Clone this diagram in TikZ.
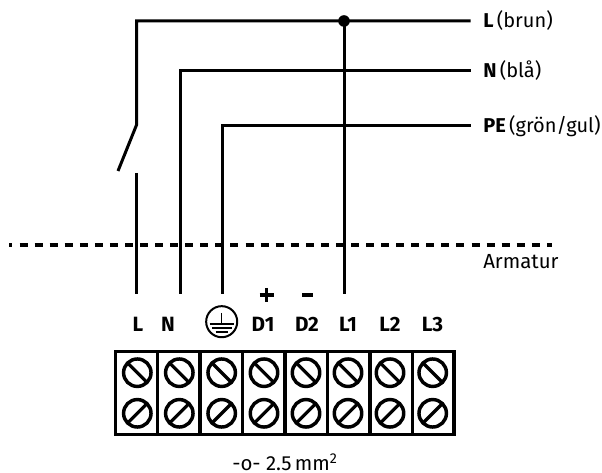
\documentclass[tikz,border=0pt]{standalone}
\usepackage{fontspec}
\setmainfont{Fira Sans}
\tikzset{
  wire/.style={line width=2.25pt,black,line cap=butt,line join=miter},
  armline/.style={line width=2.6pt,black,dash pattern=on 6pt off 5.3pt,dash phase=3.4pt},
  termbox/.style={draw=black,line width=2.6pt,fill=white},
  screw/.style={circle,draw=black,line width=2.6pt,minimum size=20.6pt,inner sep=0pt,outer sep=0pt},
  slot/.style={line width=2.4pt,black},
  termlabel/.style={font=\fontsize{15.5}{17}\selectfont\bfseries,inner sep=0pt,anchor=center},
  wirelabel/.style={font=\fontsize{15}{17}\selectfont,inner sep=0pt,anchor=west},
  plainlabel/.style={font=\fontsize{15.3}{17}\selectfont,inner sep=0pt},
}
\begin{document}
\begin{tikzpicture}[x=0.75pt,y=-0.75pt]
\useasboundingbox (0,0) rectangle (602,473);
% free ends of wires
\coordinate (lend) at (470.5,21);
\coordinate (nend) at (470.5,71);
\coordinate (peend) at (470.5,126);
\coordinate (ltop) at (136.5,21);
\coordinate (ntop) at (180,71);
\coordinate (petop) at (222.5,126);
\coordinate (swhinge) at (136.5,125);
\coordinate (swtip) at (118,171);
\coordinate (swlow) at (136.5,173);
\coordinate (lbot) at (136.5,294);
\coordinate (nbot) at (180,294);
\coordinate (pebot) at (222.5,294);
\coordinate (l1bot) at (344,294);
\coordinate (junction) at (344,21);
\coordinate (armleft) at (9,245);
\coordinate (armright) at (552,245);
% armature line
\draw[armline] (armleft) -- (armright);
% wires
\draw[wire] (lend) -- (ltop) -- (swhinge) -- (swtip);
\draw[wire] (swlow) -- (lbot);
\draw[wire] (nend) -- (ntop) -- (nbot);
\draw[wire] (peend) -- (petop) -- (pebot);
\draw[wire] (junction) -- (l1bot);
\fill[black] (junction) circle[radius=5.8];
% wire labels
\node[wirelabel] (lbl) at (483,21) {\textbf{L}\,(brun)};
\node[wirelabel] (nbl) at (483,71) {\textbf{N}\,(blå)};
\node[wirelabel] (pebl) at (483,126) {\textbf{PE}\,(grön/gul)};
\node[plainlabel,anchor=base west] (arm) at (483,269) {Armatur};
% terminal labels
\node[termlabel] (tL) at (138,324.5) {L};
\node[termlabel] (tN) at (168,324.5) {N};
\node[circle,draw=black,line width=1.5pt,minimum size=23.3pt,inner sep=0pt] (tPE) at (221.7,321.7) {};
\draw[line width=1.1pt] (221.7,313) -- (221.7,324);
\draw[line width=1.2pt] (209.7,324) -- (233.7,324);
\draw[line width=1.2pt] (212,328) -- (231.5,328);
\draw[line width=1.2pt] (215.5,332) -- (228,332);
\node[termlabel] (tD1) at (263,324.5) {D1};
\node[termlabel] (tD2) at (307,324.5) {D2};
\node[termlabel] (tL1) at (348,324.5) {L1};
\node[termlabel] (tL2) at (390,324.5) {L2};
\node[termlabel] (tL3) at (432.5,324.5) {L3};
\draw[line width=2.4pt] (259.5,295) -- (273.5,295) (266.5,288) -- (266.5,302);
\draw[line width=2.4pt] (302,295) -- (313,295);
% terminal block
\node[termbox,minimum width=254pt,minimum height=62.3pt,inner sep=0pt] (block) at (284.85,393) {};
\foreach \x/\n in {157.3/a,200/b,242.7/c,285/d,327.3/e,370/f,412.7/g}{
  \draw[line width=2.6pt] (\x,351) -- (\x,435);
}
\foreach \x/\n in {137.3/a,179.3/b,221.7/c,264/d,306/e,348/f,390/g,432.7/h}{
  \node[screw] (top\n) at (\x,372.7) {};
  \node[screw] (bot\n) at (\x,413.3) {};
  \draw[slot] (top\n.north west) -- (top\n.south east);
  \draw[slot] (bot\n.south west) -- (bot\n.north east);
}
\node[plainlabel,anchor=base] (size) at (285,470) {-o- 2.5\,mm\textsuperscript{2}};
\end{tikzpicture}
\end{document}
